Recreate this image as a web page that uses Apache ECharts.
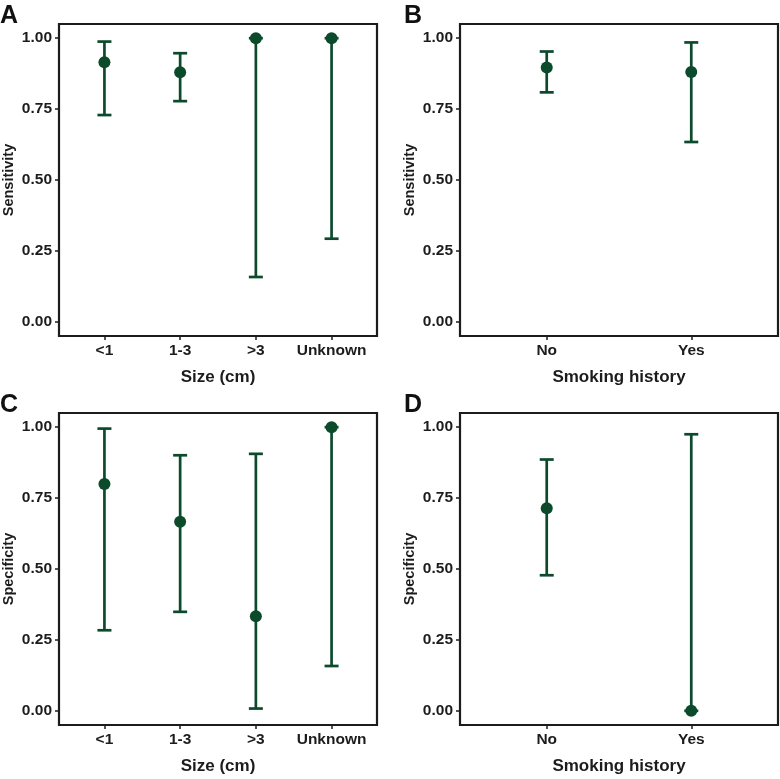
<!DOCTYPE html>
<html>
<head>
<meta charset="utf-8">
<script src="https://cdn.jsdelivr.net/npm/echarts@6/dist/echarts.min.js"></script>
<style>html,body{margin:0;padding:0;background:#fff;}#chart{width:780px;height:779px;}</style>
</head>
<body>
<div id="chart"></div>
<script>
// ---- Data ----
const sizeCategories = ['<1', '1-3', '>3', 'Unknown'];
const smokingCategories = ['No', 'Yes'];
const yTicks = [0, 0.25, 0.5, 0.75, 1];

// Panel A: Sensitivity by size
const sensSizeEst   = [0.915, 0.880, 1.000, 1.000];
const sensSizeLower = [0.729, 0.778, 0.158, 0.293];
const sensSizeUpper = [0.988, 0.947, 1.000, 1.000];

// Panel B: Sensitivity by smoking history
const sensSmokeEst   = [0.897, 0.881];
const sensSmokeLower = [0.809, 0.634];
const sensSmokeUpper = [0.953, 0.985];

// Panel C: Specificity by size
const specSizeEst   = [0.800, 0.667, 0.333, 1.000];
const specSizeLower = [0.284, 0.349, 0.008, 0.158];
const specSizeUpper = [0.995, 0.901, 0.906, 1.000];

// Panel D: Specificity by smoking history
const specSmokeEst   = [0.714, 0.000];
const specSmokeLower = [0.478, 0.000];
const specSmokeUpper = [0.886, 0.975];

// ---- Styling ----
const GREEN = '#0b4a2b';
const DARK = '#1c1c1c';
const FONT = 'Liberation Sans, Arial, sans-serif';

const panels = [
  {letter: 'A', cats: sizeCategories, est: sensSizeEst, lo: sensSizeLower, hi: sensSizeUpper, yName: 'Sensitivity', xName: 'Size (cm)', left: 57, top: 24, width: 320},
  {letter: 'B', cats: smokingCategories, est: sensSmokeEst, lo: sensSmokeLower, hi: sensSmokeUpper, yName: 'Sensitivity', xName: 'Smoking history', left: 460, top: 24, width: 318},
  {letter: 'C', cats: sizeCategories, est: specSizeEst, lo: specSizeLower, hi: specSizeUpper, yName: 'Specificity', xName: 'Size (cm)', left: 57, top: 413, width: 320},
  {letter: 'D', cats: smokingCategories, est: specSmokeEst, lo: specSmokeLower, hi: specSmokeUpper, yName: 'Specificity', xName: 'Smoking history', left: 460, top: 413, width: 318}
];
const PANEL_H = 312;

const grid = [], xAxis = [], yAxis = [], series = [], graphic = [];

panels.forEach((p, i) => {
  const n = p.cats.length;
  const positions = p.cats.map((c, k) => k + 1);
  grid.push({left: p.left, top: p.top, width: p.width, height: PANEL_H, show: true,
    borderColor: DARK, borderWidth: 2.2, backgroundColor: 'transparent', containLabel: false});
  xAxis.push({
    gridIndex: i, type: 'value', min: 0.4, max: n + 0.6, position: 'bottom',
    name: p.xName, nameLocation: 'middle', nameGap: 33,
    nameTextStyle: {fontFamily: FONT, fontWeight: 'bold', fontSize: 17, color: DARK},
    axisLine: {show: false, onZero: false},
    axisTick: {show: true, customValues: positions, length: 4, lineStyle: {color: DARK, width: 1.5}},
    axisLabel: {show: true, customValues: positions, margin: 7,
      formatter: v => p.cats[Math.round(v) - 1] || '',
      fontFamily: FONT, fontWeight: 'bold', fontSize: 15.5, color: DARK},
    splitLine: {show: false}
  });
  yAxis.push({
    gridIndex: i, type: 'value', min: -0.05, max: 1.05, position: 'left',
    name: p.yName, nameLocation: 'middle', nameGap: 43, nameRotate: 90,
    nameTextStyle: {fontFamily: FONT, fontWeight: 'bold', fontSize: 14.5, color: DARK},
    axisLine: {show: false, onZero: false},
    axisTick: {show: true, customValues: yTicks, length: 4, lineStyle: {color: DARK, width: 1.5}},
    axisLabel: {show: true, customValues: yTicks, margin: 7,
      formatter: v => v.toFixed(2),
      fontFamily: FONT, fontWeight: 'bold', fontSize: 15.5, color: DARK},
    splitLine: {show: false}
  });
  series.push({
    type: 'custom', xAxisIndex: i, yAxisIndex: i,
    data: positions.map((x, k) => [x, p.lo[k], p.hi[k]]),
    encode: {x: 0, y: [1, 2]},
    renderItem: function (params, api) {
      const x = api.value(0);
      const top = api.coord([x, api.value(2)]);
      const bot = api.coord([x, api.value(1)]);
      const hw = 7;
      const st = {stroke: GREEN, lineWidth: 2.7};
      return {type: 'group', children: [
        {type: 'line', shape: {x1: top[0], y1: top[1], x2: bot[0], y2: bot[1]}, style: st},
        {type: 'line', shape: {x1: top[0] - hw, y1: top[1], x2: top[0] + hw, y2: top[1]}, style: st},
        {type: 'line', shape: {x1: bot[0] - hw, y1: bot[1], x2: bot[0] + hw, y2: bot[1]}, style: st}
      ]};
    },
    z: 2
  });
  series.push({
    type: 'scatter', xAxisIndex: i, yAxisIndex: i,
    data: positions.map((x, k) => [x, p.est[k]]),
    symbol: 'circle', symbolSize: 12,
    itemStyle: {color: GREEN, opacity: 1},
    z: 3
  });
  graphic.push({type: 'text', left: (p.left < 100 ? 0 : 404), top: p.top - 20,
    style: {text: p.letter, fontFamily: FONT, fontWeight: 'bold', fontSize: 25, fill: '#111'}});
});

const chart = echarts.init(document.getElementById('chart'), null, {renderer: 'canvas'});
chart.setOption({
  animation: false,
  backgroundColor: '#fff',
  grid, xAxis, yAxis, series, graphic
});
</script>
</body>
</html>
